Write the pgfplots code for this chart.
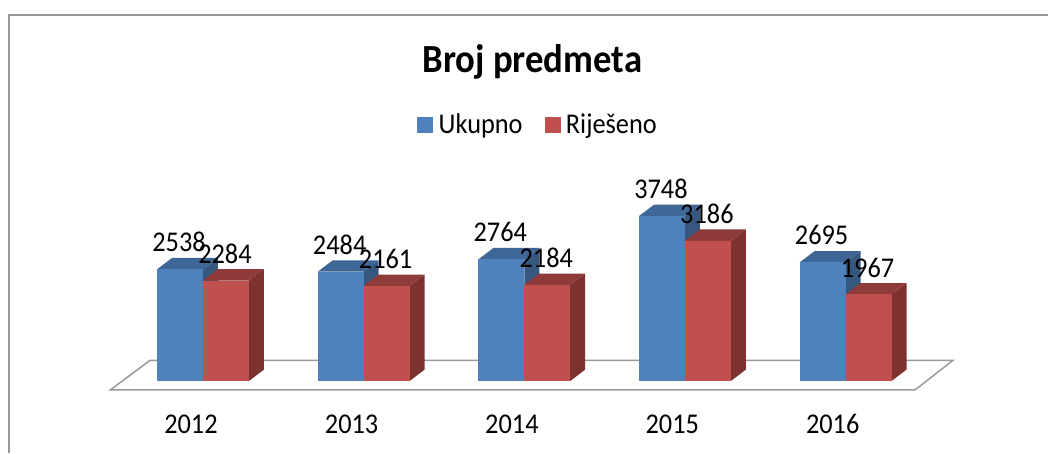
\documentclass[border=0pt]{standalone}
\usepackage{pgfplots}
\pgfplotsset{compat=1.18}
\usepackage{pgfplotstable}
\usepackage{fontspec}
\setmainfont[FakeStretch=0.92]{Carlito}

\definecolor{bluefront}{HTML}{4F81BD}
\definecolor{bluetop}{HTML}{3E6797}
\definecolor{blueside}{HTML}{36587F}
\definecolor{redfront}{HTML}{C0504D}
\definecolor{redtop}{HTML}{8E3B39}
\definecolor{redside}{HTML}{7D3230}
\definecolor{framegray}{HTML}{9A9A9A}

% x = centre of the front face, v = value
\pgfplotstableread{
x      v
-0.143 2538
0.857  2484
1.857  2764
2.857  3748
3.857  2695
}\ukupno
\pgfplotstableread{
x      v
0.143  2284
1.143  2161
2.143  2184
3.143  3186
4.143  1967
}\rijeseno

% one 3D bar: x centre, value, colour prefix
\newcommand\threedbar[3]{%
  \pgfmathsetmacro\xa{#1-0.143}%
  \pgfmathsetmacro\xb{#1+0.143}%
  \pgfmathsetmacro\xc{#1+0.143+0.0934}%
  \pgfmathsetmacro\xd{#1-0.143+0.0934}%
  \pgfmathsetmacro\yt{#2+259}%
  \edef\temp{%
    \noexpand\addplot[forget plot,draw=none,fill=#3side] coordinates {(\xb,0) (\xc,259) (\xc,\yt) (\xb,#2)} --cycle;
    \noexpand\addplot[forget plot,draw=none,fill=#3top] coordinates {(\xa,#2) (\xb,#2) (\xc,\yt) (\xd,\yt)} --cycle;
    \noexpand\addplot[forget plot,draw=none,fill=#3front] coordinates {(\xa,0) (\xb,0) (\xb,#2) (\xa,#2)} --cycle;
  }\temp
}

\begin{document}
\begin{tikzpicture}
\useasboundingbox (0,0) rectangle (1048pt,453pt);
\draw[framegray,line width=1.5pt] (9pt,0) -- (9pt,438pt) -- (1048pt,438pt);
\begin{axis}[
  at={(0,0)}, anchor=south west,
  scale only axis, width=1048pt, height=453pt,
  xmin=-1.2636, xmax=5.2599,
  ymin=-1636.4, ymax=8659.1,
  clip=false,
  axis line style={draw=none},
  major tick length=0pt,
  ytick=\empty,
  xtick={-0.075,0.925,1.923,2.921,3.92},
  xticklabels={2012,2013,2014,2015,2016},
  xticklabel style={font=\fontsize{28.6}{32}\selectfont,anchor=center,yshift=29pt},
  title={Broj predmeta},
  title style={font=\fontsize{39.9}{44}\selectfont\bfseries,at={(0.508,0.8675)},anchor=center,yshift=-8pt},
  legend style={at={(0.5134,0.7245)},anchor=center,draw=none,fill=none,
    font=\fontsize{28.6}{32}\selectfont,legend columns=2,
    /tikz/every even column/.append style={column sep=20pt},
    /tikz/every odd column/.append style={column sep=4pt}},
]
\addlegendimage{legend image code/.code={\fill[bluefront] (0,-7.5pt) rectangle (15pt,7.5pt);}}
\addlegendentry{Ukupno}
\addlegendimage{legend image code/.code={\fill[redfront] (0,-7.5pt) rectangle (15pt,7.5pt);}}
\addlegendentry{Riješeno}

% floor
\addplot[forget plot,draw=framegray,line width=1.5pt,fill=white]
  coordinates {(-0.577,-204.5) (4.432,-204.5) (4.669,470.5) (-0.33,470.5)} --cycle;

\threedbar{-0.143}{2538}{blue}\threedbar{0.143}{2284}{red}
\threedbar{0.857}{2484}{blue}\threedbar{1.143}{2161}{red}
\threedbar{1.857}{2764}{blue}\threedbar{2.143}{2184}{red}
\threedbar{2.857}{3748}{blue}\threedbar{3.143}{3186}{red}
\threedbar{3.857}{2695}{blue}\threedbar{4.143}{1967}{red}

% value labels
\addplot[forget plot,draw=none,mark=none,point meta=explicit symbolic,nodes near coords,
  nodes near coords style={font=\fontsize{28.6}{32}\selectfont,anchor=center,yshift=27pt,xshift=-1pt}]
  table[x=x,y=v,meta=v] {\ukupno};
\addplot[forget plot,draw=none,mark=none,point meta=explicit symbolic,nodes near coords,
  nodes near coords style={font=\fontsize{28.6}{32}\selectfont,anchor=center,yshift=27pt,xshift=-1pt}]
  table[x=x,y=v,meta=v] {\rijeseno};
\end{axis}
\end{tikzpicture}
\end{document}
